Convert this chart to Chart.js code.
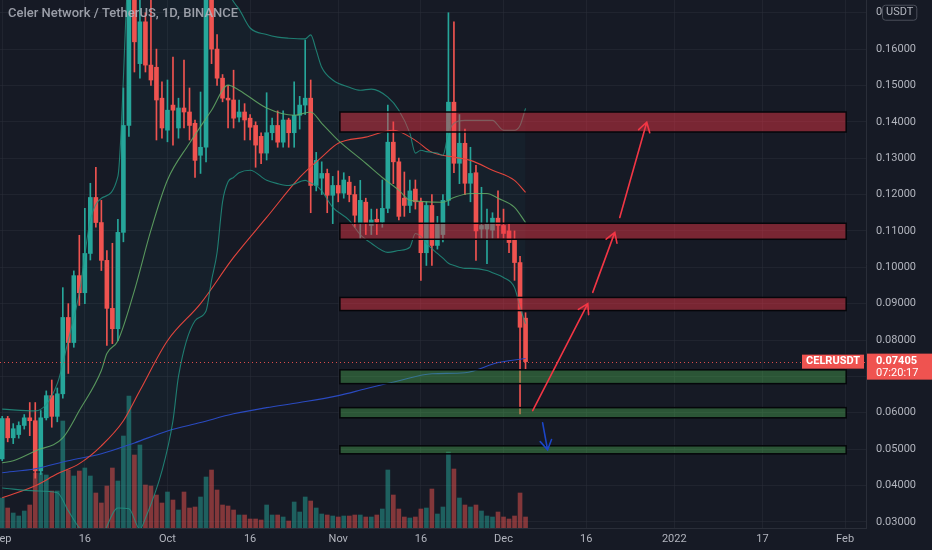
<!DOCTYPE html>
<html>
<head>
<meta charset="utf-8">
<script src="https://cdn.jsdelivr.net/npm/chart.js@4.4.1/dist/chart.umd.min.js"></script>
<style>
  html, body { margin: 0; padding: 0; background: #161a25; overflow: hidden; }
  canvas { display: block; }
</style>
</head>
<body>
<canvas id="chart" width="932" height="550"></canvas>
<script>
// day index 0 = 1 Sep 2021, one candle per day (CELR/USDT, Binance, 1D)
const tickDays = [0, 15, 30, 45, 61, 76, 91, 106, 122, 138, 153];
const tickLabels = ['Sep', '16', 'Oct', '16', 'Nov', '16', 'Dec', '16', '2022', '17', 'Feb'];
const priceTicks = [0.03, 0.04, 0.05, 0.06, 0.07, 0.08, 0.09, 0.10, 0.11, 0.12, 0.13, 0.14, 0.15, 0.16, 0.17];

const opens = [
  0.0473, 0.0584, 0.0531, 0.0540, 0.0565, 0.0586, 0.0578, 0.0440, 0.0586, 0.0647,
  0.0590, 0.0652, 0.0862, 0.0793, 0.0977, 0.0930, 0.1038, 0.1192, 0.1123, 0.1019,
  0.0887, 0.0831, 0.1096, 0.1390, 0.1780, 0.1560, 0.1675, 0.1556, 0.1550, 0.1465,
  0.1377, 0.1446, 0.1383, 0.1438, 0.1427, 0.1396, 0.1308, 0.1330, 0.1750, 0.1600,
  0.1520, 0.1465, 0.1460, 0.1413, 0.1427, 0.1410, 0.1390, 0.1360, 0.1314, 0.1370,
  0.1390, 0.1344, 0.1405, 0.1370, 0.1418, 0.1446, 0.1465, 0.1225, 0.1245, 0.1258,
  0.1198, 0.1225, 0.1204, 0.1234, 0.1200, 0.1121, 0.1179, 0.1115, 0.1132, 0.1124,
  0.1162, 0.1344, 0.1290, 0.1190, 0.1170, 0.1215, 0.1180, 0.1040, 0.1170, 0.1060,
  0.1090, 0.1184, 0.1454, 0.1286, 0.1341, 0.1231, 0.1260, 0.1105, 0.1105, 0.1102,
  0.1135, 0.1115, 0.1100, 0.1075, 0.1013, 0.0860
];
const highs = [
  0.0590, 0.0590, 0.0570, 0.0575, 0.0595, 0.0628, 0.0628, 0.0606, 0.0660, 0.0690,
  0.0668, 0.0944, 0.0900, 0.0990, 0.1088, 0.1162, 0.1231, 0.1275, 0.1184, 0.1046,
  0.1066, 0.1132, 0.1493, 0.1900, 0.1850, 0.1780, 0.1700, 0.1760, 0.1600, 0.1510,
  0.1515, 0.1578, 0.1465, 0.1570, 0.1493, 0.1405, 0.1482, 0.1800, 0.1780, 0.1640,
  0.1530, 0.1500, 0.1542, 0.1460, 0.1450, 0.1420, 0.1400, 0.1370, 0.1480, 0.1410,
  0.1430, 0.1430, 0.1410, 0.1510, 0.1470, 0.1625, 0.1515, 0.1316, 0.1290, 0.1270,
  0.1250, 0.1265, 0.1260, 0.1250, 0.1223, 0.1239, 0.1190, 0.1160, 0.1160, 0.1240,
  0.1446, 0.1400, 0.1300, 0.1262, 0.1240, 0.1240, 0.1190, 0.1180, 0.1200, 0.1140,
  0.1200, 0.1700, 0.1675, 0.1420, 0.1380, 0.1330, 0.1280, 0.1220, 0.1160, 0.1150,
  0.1210, 0.1160, 0.1120, 0.1100, 0.1030, 0.0875
];
const lows = [
  0.0468, 0.0520, 0.0515, 0.0530, 0.0555, 0.0537, 0.0420, 0.0430, 0.0580, 0.0560,
  0.0575, 0.0640, 0.0708, 0.0780, 0.0895, 0.0900, 0.1020, 0.1110, 0.0991, 0.0785,
  0.0790, 0.0798, 0.1070, 0.1360, 0.1537, 0.1520, 0.1537, 0.1500, 0.1350, 0.1355,
  0.1345, 0.1336, 0.1355, 0.1383, 0.1350, 0.1247, 0.1258, 0.1290, 0.1560, 0.1500,
  0.1455, 0.1383, 0.1383, 0.1400, 0.1350, 0.1350, 0.1275, 0.1285, 0.1295, 0.1350,
  0.1330, 0.1330, 0.1330, 0.1330, 0.1380, 0.1420, 0.1150, 0.1210, 0.1200, 0.1150,
  0.1120, 0.1180, 0.1190, 0.1180, 0.1110, 0.1080, 0.1090, 0.1090, 0.1090, 0.1110,
  0.1150, 0.1230, 0.1130, 0.1140, 0.1150, 0.1160, 0.0964, 0.1005, 0.1005, 0.1050,
  0.1070, 0.1170, 0.1260, 0.1230, 0.1200, 0.1180, 0.1019, 0.1080, 0.1010, 0.1080,
  0.1080, 0.1080, 0.1040, 0.0964, 0.0597, 0.0720
];
const closes = [
  0.0584, 0.0531, 0.0556, 0.0565, 0.0586, 0.0578, 0.0440, 0.0586, 0.0647, 0.0590,
  0.0652, 0.0862, 0.0793, 0.0977, 0.0930, 0.1038, 0.1192, 0.1123, 0.1019, 0.0887,
  0.0831, 0.1096, 0.1390, 0.1780, 0.1620, 0.1675, 0.1556, 0.1515, 0.1460, 0.1383,
  0.1432, 0.1432, 0.1438, 0.1427, 0.1390, 0.1294, 0.1330, 0.1750, 0.1600, 0.1520,
  0.1465, 0.1460, 0.1410, 0.1427, 0.1405, 0.1385, 0.1336, 0.1314, 0.1370, 0.1390,
  0.1344, 0.1405, 0.1370, 0.1418, 0.1446, 0.1465, 0.1225, 0.1294, 0.1258, 0.1198,
  0.1225, 0.1204, 0.1240, 0.1200, 0.1143, 0.1184, 0.1121, 0.1130, 0.1124, 0.1162,
  0.1344, 0.1290, 0.1140, 0.1170, 0.1210, 0.1180, 0.1040, 0.1170, 0.1060, 0.1120,
  0.1184, 0.1454, 0.1286, 0.1341, 0.1231, 0.1258, 0.1100, 0.1115, 0.1120, 0.1135,
  0.1115, 0.1093, 0.1068, 0.1013, 0.0835, 0.07405
];
// volume, millions CELR
const volumes = [
  30, 20, 15, 12, 17, 23, 55, 55, 53, 37,
  37, 107, 58, 52, 57, 60, 52, 35, 25, 42,
  60, 47, 92, 132, 73, 83, 43, 42, 33, 25,
  36, 28, 18, 36, 20, 21, 31, 51, 58, 38,
  23, 22, 18, 13, 13, 9, 9, 8, 23, 13,
  13, 11, 7, 26, 16, 31, 27, 20, 14, 13,
  12, 11, 12, 12, 13, 13, 11, 11, 13, 19,
  58, 33, 19, 11, 10, 11, 19, 20, 39, 14,
  21, 76, 59, 30, 23, 21, 23, 17, 12, 11,
  16, 11, 9, 12, 35, 11
];

// Bollinger Bands (20, 2)
const bbDays = [0, 6, 10, 12, 14, 16, 18, 21, 23, 25, 26, 29, 31, 32, 35, 37, 38, 39, 40, 41, 42, 43, 45,
  48, 50, 52, 55, 56, 57, 58, 60, 63, 65, 67, 70, 72, 74, 75, 76, 77, 79, 80, 81, 82, 84, 85, 88, 89, 91, 93, 94, 95];
const bbUpper = [0.0610, 0.0605, 0.0680, 0.0800, 0.0930, 0.1130, 0.1190, 0.1250, 0.1850, 0.1980, 0.2000, 0.2000,
  0.1980, 0.1970, 0.1950, 0.1920, 0.1900, 0.1850, 0.1800, 0.1760, 0.1730, 0.1710, 0.1658,
  0.1640, 0.1633, 0.1630, 0.1628, 0.1639, 0.1597, 0.1550, 0.1515, 0.1495, 0.1487, 0.1490, 0.1468, 0.1432,
  0.1369, 0.1314, 0.1322, 0.1318, 0.1314, 0.1308, 0.1369, 0.1396, 0.1404, 0.1404, 0.1404, 0.1404, 0.1377,
  0.1377, 0.1390, 0.1437];
const bbLower = [0.0393, 0.0385, 0.0380, 0.0330, 0.0283, 0.0250, 0.0260, 0.0338, 0.0336, 0.0280, 0.0310, 0.0440,
  0.0578, 0.0700, 0.0853, 0.0880, 0.0964, 0.1040, 0.1180, 0.1235, 0.1247, 0.1260, 0.1267,
  0.1239, 0.1230, 0.1225, 0.1239, 0.1232, 0.1225, 0.1210, 0.1165, 0.1129, 0.1090, 0.1066, 0.1041, 0.1046,
  0.1055, 0.1093, 0.1085, 0.1066, 0.1038, 0.1025, 0.1011, 0.1005, 0.0997, 0.0997, 0.0991, 0.0985, 0.0972,
  0.0944, 0.0890, 0.0845];
const bbBasisDays = [0, 2, 6, 11, 14, 18, 19, 21, 24, 27, 30, 34, 38, 41, 43, 48, 53, 56, 58, 61, 66, 69, 72, 74,
  80, 82, 85, 88, 90, 93, 95];
const bbBasis = [0.0462, 0.0468, 0.0495, 0.0531, 0.0606, 0.0716, 0.0763, 0.0798, 0.0936, 0.1102, 0.1240, 0.1341,
  0.1432, 0.1501, 0.1487, 0.1438, 0.1418, 0.1427, 0.1396, 0.1349, 0.1286, 0.1247, 0.1212, 0.1184,
  0.1179, 0.1192, 0.1203, 0.1203, 0.1190, 0.1165, 0.1123];
const ma50Days = [0, 6, 10, 14, 18, 22, 25, 30, 36, 42, 48, 54, 58, 61, 66, 71, 75, 78, 82, 85, 89, 93, 95];
const ma50 = [0.0366, 0.0399, 0.0432, 0.0460, 0.0509, 0.0578, 0.0661, 0.0798, 0.0900, 0.1027, 0.1137, 0.1247,
  0.1303, 0.1341, 0.1358, 0.1377, 0.1349, 0.1316, 0.1303, 0.1294, 0.1267, 0.1239, 0.1206];
const ma200Days = [0, 6, 12, 18, 24, 30, 36, 42, 48, 54, 61, 66, 72, 78, 84, 90, 95];
const ma200 = [0.0435, 0.0446, 0.0468, 0.0487, 0.0517, 0.0550, 0.0573, 0.0597, 0.0614, 0.0628, 0.0647, 0.0666,
  0.0688, 0.0707, 0.0710, 0.0738, 0.0749];

// drawn zones: 1 Nov 2021 -> 1 Feb 2022
const zoneStart = 61.3;
const zoneEnd = 153.2;
const zoneTops = [0.1427, 0.1121, 0.0917, 0.0718, 0.0614, 0.0509];
const zoneBottoms = [0.1372, 0.1077, 0.0881, 0.0680, 0.0586, 0.0487];
const zoneSides = ['resistance', 'resistance', 'resistance', 'support', 'support', 'support'];

// hand drawn arrows [fromDay, fromPrice, toDay, toPrice]
const upArrows = [[96.3, 0.0606, 106.3, 0.0900], [107.2, 0.0931, 111.2, 0.1096], [112.1, 0.1137, 117.0, 0.1399]];
const downArrows = [[98.1, 0.0572, 99.0, 0.0498]];

const symbol = 'CELRUSDT';
const title = 'Celer Network / TetherUS, 1D, BINANCE';
const lastPrice = 0.07405;
const countdown = '07:20:17';

const UP = '#26a69a';
const DOWN = '#ef5350';
const days = opens.map((_, i) => i);
const isUp = i => closes[i] >= opens[i];
const pts = (xs, ys) => xs.map((x, i) => ({x: x, y: ys[i]}));

function lineSet(label, xs, ys, color, extra) {
  return Object.assign({
    type: 'line', label: label, data: pts(xs, ys), borderColor: color, borderWidth: 1.1,
    pointRadius: 0, cubicInterpolationMode: 'monotone', fill: false, order: 10
  }, extra || {});
}

function drawArrow(ctx, x1, y1, x2, y2, color) {
  const a = Math.atan2(y2 - y1, x2 - x1);
  const len = 11;
  ctx.save();
  ctx.strokeStyle = color;
  ctx.lineWidth = 1.6;
  ctx.lineCap = 'round';
  ctx.beginPath();
  ctx.moveTo(x1, y1);
  ctx.lineTo(x2, y2);
  ctx.moveTo(x2 + len * Math.cos(a + Math.PI - 0.55), y2 + len * Math.sin(a + Math.PI - 0.55));
  ctx.lineTo(x2, y2);
  ctx.lineTo(x2 + len * Math.cos(a + Math.PI + 0.55), y2 + len * Math.sin(a + Math.PI + 0.55));
  ctx.stroke();
  ctx.restore();
}

const drawings = {
  id: 'drawings',
  afterDatasetsDraw(chart) {
    const {ctx, chartArea, scales: {x, y}} = chart;
    ctx.save();
    ctx.beginPath();
    ctx.rect(chartArea.left, chartArea.top, chartArea.right - chartArea.left, chartArea.bottom - chartArea.top);
    ctx.clip();
    zoneTops.forEach((top, i) => {
      const x1 = x.getPixelForValue(zoneStart), x2 = x.getPixelForValue(zoneEnd);
      const y1 = y.getPixelForValue(top), y2 = y.getPixelForValue(zoneBottoms[i]);
      ctx.fillStyle = zoneSides[i] === 'resistance' ? 'rgba(242,54,69,0.45)' : 'rgba(76,175,80,0.4)';
      ctx.fillRect(x1, y1, x2 - x1, y2 - y1);
      ctx.strokeStyle = '#05060a';
      ctx.lineWidth = 1.5;
      ctx.strokeRect(x1, y1, x2 - x1, y2 - y1);
    });
    upArrows.forEach(a => drawArrow(ctx, x.getPixelForValue(a[0]), y.getPixelForValue(a[1]),
      x.getPixelForValue(a[2]), y.getPixelForValue(a[3]), '#f23645'));
    downArrows.forEach(a => drawArrow(ctx, x.getPixelForValue(a[0]), y.getPixelForValue(a[1]),
      x.getPixelForValue(a[2]), y.getPixelForValue(a[3]), '#1c46c8'));

    // last price line
    const py = Math.round(y.getPixelForValue(lastPrice)) + 0.5;
    ctx.strokeStyle = 'rgba(239,83,80,0.9)';
    ctx.lineWidth = 1;
    ctx.setLineDash([1, 3]);
    ctx.beginPath();
    ctx.moveTo(chartArea.left, py);
    ctx.lineTo(chartArea.right, py);
    ctx.stroke();
    ctx.restore();
  },
  afterDraw(chart) {
    const {ctx, chartArea, scales: {y}} = chart;
    ctx.save();
    ctx.textBaseline = 'middle';

    ctx.font = '500 13px Roboto';
    ctx.fillStyle = 'rgba(178,181,190,0.85)';
    ctx.textAlign = 'left';
    ctx.fillText(title, 8, 14);

    // price scale currency tag
    const ty = y.getPixelForValue(0.17);
    ctx.font = '11px Roboto';
    ctx.fillStyle = '#b2b5be';
    ctx.fillText('0', chartArea.right + 10, ty);
    const w = ctx.measureText('USDT').width;
    ctx.strokeStyle = '#4a4e59';
    ctx.lineWidth = 1;
    ctx.beginPath();
    ctx.roundRect(chartArea.right + 16.5, ty - 7.5, w + 7, 15, 3);
    ctx.stroke();
    ctx.fillText('USDT', chartArea.right + 20, ty);

    // last price labels
    const py = y.getPixelForValue(lastPrice);
    ctx.fillStyle = DOWN;
    ctx.fillRect(chartArea.right + 1, py - 8, 932 - chartArea.right - 1, 26);
    ctx.fillRect(chartArea.right - 64, py - 7, 62, 14);
    ctx.fillStyle = '#ffffff';
    ctx.font = 'bold 11px Roboto';
    ctx.textAlign = 'center';
    ctx.fillText(symbol, chartArea.right - 33, py);
    ctx.textAlign = 'left';
    ctx.fillText(lastPrice.toFixed(5), chartArea.right + 10, py);
    ctx.font = '11px Roboto';
    ctx.fillText(countdown, chartArea.right + 10, py + 12);
    ctx.restore();
  }
};

const gridColor = 'rgba(42,46,57,0.55)';

new Chart(document.getElementById('chart'), {
  type: 'bar',
  data: {
    datasets: [
      lineSet('BB upper', bbDays, bbUpper, 'rgba(34,150,132,0.8)', {order: 12}),
      lineSet('BB lower', bbDays, bbLower, 'rgba(34,150,132,0.8)', {order: 11, fill: '-1', backgroundColor: 'rgba(38,166,154,0.05)'}),
      lineSet('BB basis', bbBasisDays, bbBasis, 'rgba(100,172,102,0.85)', {order: 10}),
      lineSet('MA 50', ma50Days, ma50, '#e2453d', {order: 13}),
      lineSet('MA 200', ma200Days, ma200, '#2a4ac0', {order: 14}),
      {
        label: 'Volume', yAxisID: 'yv', grouped: false, order: 50, barThickness: 4,
        data: days.map(i => ({x: i, y: volumes[i]})),
        backgroundColor: days.map(i => isUp(i) ? 'rgba(38,166,154,0.5)' : 'rgba(239,83,80,0.5)')
      },
      {
        label: 'Wicks', grouped: false, order: 31, barThickness: 1, borderSkipped: false,
        data: days.map(i => ({x: i, y: [lows[i], highs[i]]})),
        backgroundColor: days.map(i => isUp(i) ? UP : DOWN)
      },
      {
        label: 'Bodies', grouped: false, order: 30, barThickness: 4, minBarLength: 1, borderSkipped: false,
        data: days.map(i => ({x: i, y: [opens[i], closes[i]]})),
        backgroundColor: days.map(i => isUp(i) ? UP : DOWN)
      }
    ]
  },
  options: {
    responsive: false,
    animation: false,
    layout: {padding: 0},
    plugins: {legend: {display: false}, tooltip: {enabled: false}, filler: {drawTime: 'beforeDatasetsDraw'}},
    scales: {
      x: {
        type: 'linear', min: -0.4, max: 156.8, offset: false,
        afterBuildTicks: s => { s.ticks = tickDays.map(v => ({value: v})); },
        afterFit: s => { s.height = 22; s.paddingLeft = 0; s.paddingRight = 0; },
        ticks: {
          callback: (v, i) => tickLabels[i], color: '#b2b5be', font: {family: 'Roboto', size: 11},
          maxRotation: 0, autoSkip: false, padding: 5
        },
        grid: {color: gridColor, drawTicks: false, offset: false},
        border: {color: '#2a2e39'}
      },
      y: {
        type: 'linear', position: 'right', min: 0.0283, max: 0.1735,
        afterBuildTicks: s => { s.ticks = priceTicks.map(v => ({value: v})); },
        afterFit: s => { s.width = 66; s.paddingTop = 0; s.paddingBottom = 0; },
        ticks: {
          callback: v => v > 0.165 ? '' : v.toFixed(5), color: '#b2b5be',
          font: {family: 'Roboto', size: 11}, padding: 10
        },
        grid: {color: gridColor, drawTicks: false},
        border: {color: '#2a2e39'}
      },
      yv: {display: false, min: 0, max: 528}
    }
  },
  plugins: [drawings]
});
</script>
</body>
</html>
